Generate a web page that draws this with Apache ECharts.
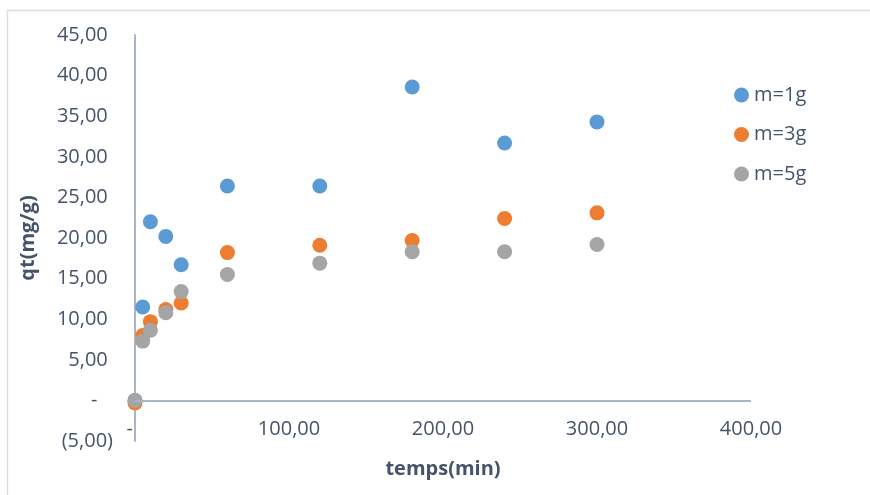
<!DOCTYPE html>
<html><head><meta charset="utf-8">
<script src="https://cdn.jsdelivr.net/npm/echarts@6/dist/echarts.min.js"></script>
<style>html,body{margin:0;padding:0;background:#fff}#c{width:870px;height:495px}</style>
</head><body><div id="c"></div>
<script>
const times = [0, 5, 10, 20, 30, 60, 120, 180, 240, 300];
const seriesNames = ['m=1g', 'm=3g', 'm=5g'];
const qt1g = [0, 11.5, 22.0, 20.2, 16.7, 26.4, 26.4, 38.6, 31.7, 34.3];
const qt3g = [-0.3, 8.0, 9.7, 11.2, 12.0, 18.2, 19.1, 19.7, 22.4, 23.1];
const qt5g = [0, 7.3, 8.65, 10.8, 13.4, 15.5, 16.9, 18.3, 18.3, 19.2];
const colors = ['#5B9BD5', '#ED7D31', '#A5A5A5'];
const allSeries = [qt1g, qt3g, qt5g];

const txt = '#44546A', axisCol = '#ABB5C8';
const font = 'Open Sans';
function fmt(v, isY) {
  if (v === 0) return isY ? '-   ' : '-  ';
  const s = Math.abs(v).toFixed(2).replace('.', ',');
  if (v < 0) return '(' + s + ')';
  return isY ? s + ' ' : s;
}
const chart = echarts.init(document.getElementById('c'));
const series = allSeries.map((arr, i) => ({
  name: seriesNames[i], type: 'scatter', symbolSize: 15,
  itemStyle: { color: colors[i], opacity: 1 },
  data: times.map((t, j) => [t, arr[j]]),
  z: 2 + i
}));
series[0].markLine = {
  silent: true, symbol: 'none', animation: false,
  lineStyle: { color: axisCol, width: 2, type: 'solid' },
  label: { show: false },
  data: [{ yAxis: 0 }]
};
chart.setOption({
  animation: false,
  textStyle: { fontFamily: font },
  graphic: [{ type: 'rect', shape: { x: 7.5, y: 10.5, width: 900, height: 600 },
    style: { fill: 'none', stroke: '#D9DEE6', lineWidth: 1.5 }, silent: true }],
  grid: { left: 135, right: 119, top: 35, bottom: 54 },
  legend: {
    orient: 'vertical', left: 729, top: 80, itemGap: 19.5,
    icon: 'circle', itemWidth: 15, itemHeight: 15,
    textStyle: { color: txt, fontSize: 20, fontFamily: font }
  },
  xAxis: {
    type: 'value', min: 0, max: 400, interval: 100, offset: -22,
    axisLine: { show: false }, axisTick: { show: false }, splitLine: { show: false },
    axisLabel: { color: txt, fontSize: 20, fontFamily: font, margin: 0, formatter: v => fmt(v, false) },
    name: 'temps(min)', nameLocation: 'middle', nameGap: 40,
    nameTextStyle: { color: txt, fontSize: 20, fontWeight: 'bold', fontFamily: font }
  },
  yAxis: {
    type: 'value', min: -5, max: 45, interval: 5,
    axisLine: { show: true, onZero: false, lineStyle: { color: axisCol, width: 2 } },
    axisTick: { show: false }, splitLine: { show: false },
    axisLabel: { color: txt, fontSize: 20, fontFamily: font, margin: 22, formatter: v => fmt(v, true) },
    name: 'qt(mg/g)', nameLocation: 'middle', nameGap: 97,
    nameTextStyle: { color: txt, fontSize: 20, fontWeight: 'bold', fontFamily: font }
  },
  series: series
});
</script></body></html>
